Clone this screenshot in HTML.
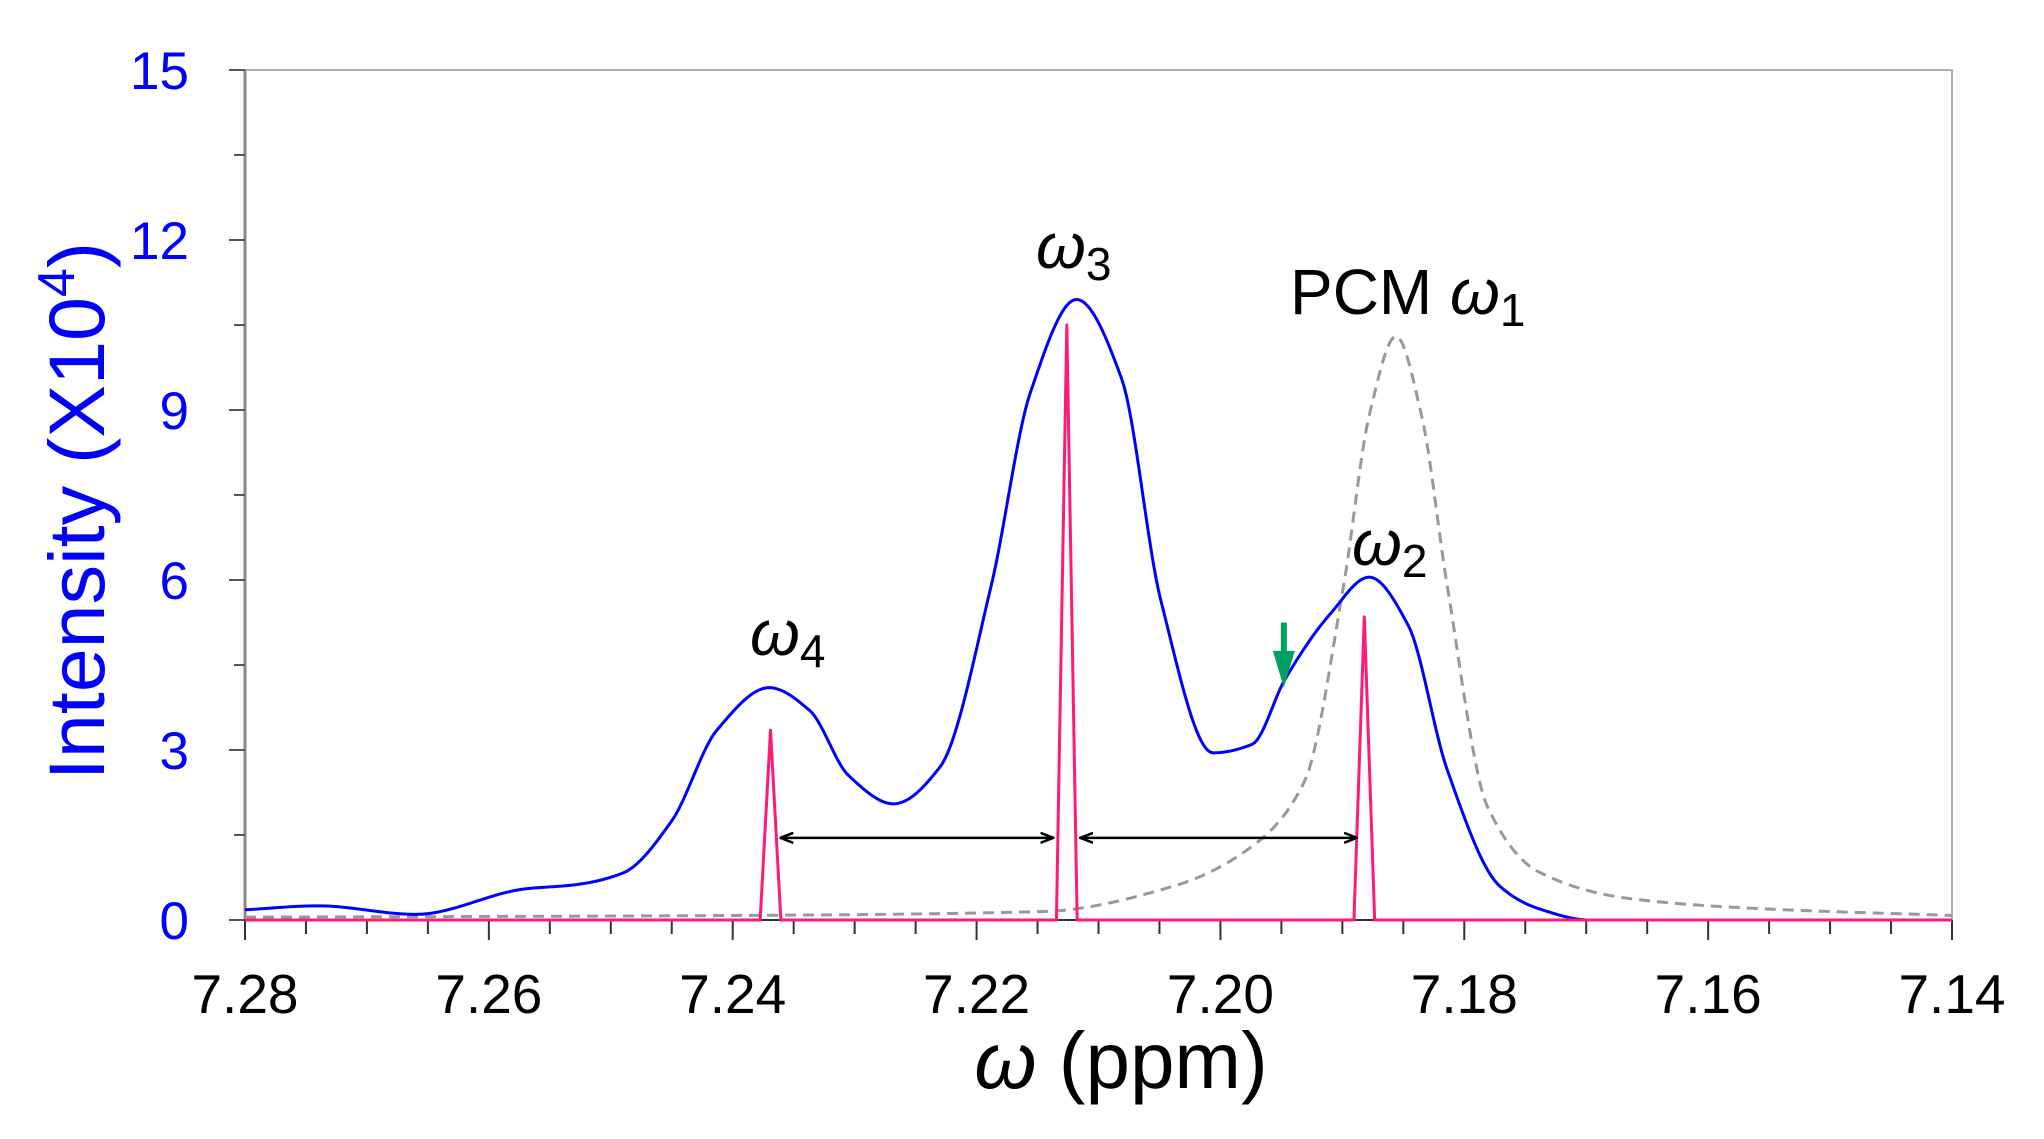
<!DOCTYPE html>
<html><head><meta charset="utf-8"><style>
html,body{margin:0;padding:0;background:#fff;}
svg{display:block;font-family:"Liberation Sans",Arial,sans-serif;}
</style></head><body>
<svg id="chart" width="2044" height="1139" viewBox="0 0 2044 1139" xmlns="http://www.w3.org/2000/svg">
<g id="axes"></g>
<g id="series"></g>
<g id="ann"></g>
</svg>
<script>
const xTickLabels = ["7.28","7.26","7.24","7.22","7.20","7.18","7.16","7.14"];
const xTickValues = [7.28,7.26,7.24,7.22,7.20,7.18,7.16,7.14];
const yTickValues = [0,3,6,9,12,15];
const blueX = [7.28,7.274,7.266,7.257,7.253,7.249,7.245,7.2413,7.237,7.2337,7.2305,7.2268,7.223,7.2188,7.2156,7.2118,7.2081,7.2049,7.2006,7.1974,7.1947,7.191,7.1878,7.1846,7.1814,7.1771,7.1739,7.1697,7.14];
const blueY = [0.18,0.25,0.1,0.55,0.62,0.83,1.75,3.35,4.1,3.7,2.55,2.05,2.7,5.9,9.3,10.95,9.55,5.65,2.95,3.1,4.25,5.4,6.05,5.2,2.65,0.6,0.2,0,0];
const pcmX = [7.28,7.24,7.2145,7.2038,7.1974,7.1931,7.1899,7.1878,7.1856,7.1835,7.1814,7.1781,7.1739,7.1665,7.1557,7.14];
const pcmY = [0.05,0.08,0.15,0.6,1.3,2.45,5.9,8.9,10.3,8.9,5.9,2.0,0.85,0.38,0.2,0.08];
const stickX = [7.2369,7.2126,7.1882];
const stickY = [3.35,10.5,5.35];
const stickHalfWidth = 0.00085;

const X0=245,X1=1952,Y0=920,Y1=70;
const xs=v=>X0+(7.28-v)/(7.28-7.14)*(X1-X0);
const ys=v=>Y0-v/15*(Y0-Y1);
const NS="http://www.w3.org/2000/svg";
function mk(tag,parent,attrs){const e=document.createElementNS(NS,tag);for(const k in attrs)e.setAttribute(k,attrs[k]);parent.appendChild(e);return e;}
const axes=document.getElementById('axes'),series=document.getElementById('series'),ann=document.getElementById('ann');

let e;
e=mk('path',axes,{d:`M${X0},${Y1}H${X1}V${Y0}`,stroke:'#b0b0b0','stroke-width':2,fill:'none'});


e=mk('line',axes,{x1:X0,y1:Y1,x2:X0,y2:Y0,stroke:'#888','stroke-width':3});


e=mk('line',axes,{x1:X0,y1:Y0,x2:X1,y2:Y0,stroke:'#333','stroke-width':2});


for(let v=0;v<=15.001;v+=1.5){const maj=Math.abs(v/3-Math.round(v/3))<1e-6;
 e=mk('line',axes,{x1:X0-(maj?16:11),x2:X0,y1:ys(v),y2:ys(v),stroke:'#555','stroke-width':2});
 
 }
yTickValues.forEach(v=>{e=mk('text',axes,{x:189,y:ys(v)+19,'text-anchor':'end','font-size':53,fill:'#0000ff'});e.textContent=v;
 
 });
for(let i=0;i<=28;i++){const v=7.28-i*0.005;const maj=i%4==0;
 e=mk('line',axes,{x1:xs(v),x2:xs(v),y1:Y0,y2:Y0+(maj?20:14),stroke:'#333','stroke-width':2});
 
 }
xTickValues.forEach((v,i)=>{e=mk('text',axes,{x:xs(v),y:1013,'text-anchor':'middle','font-size':55,fill:'#000'});e.textContent=xTickLabels[i];
 
 });
e=mk('text',axes,{x:1121,y:1088,'text-anchor':'middle','font-size':80,fill:'#000'});
e.innerHTML='<tspan font-style="italic">ω</tspan> (ppm)';


e=mk('text',axes,{x:0,y:0,'text-anchor':'middle','font-size':79,fill:'#0000ff',transform:'translate(104,511) rotate(-90)'});
e.innerHTML='Intensity (X10<tspan dy="-30" font-size="52">4</tspan><tspan dy="30">)</tspan>';



// monotone cubic interpolation (x decreasing arrays)
function smooth(px,py){
 const n=px.length,h=[],d=[],m=[];
 for(let i=0;i<n-1;i++){h[i]=px[i+1]-px[i];d[i]=(py[i+1]-py[i])/h[i];}
 m[0]=d[0];m[n-1]=d[n-2];
 for(let i=1;i<n-1;i++){if(d[i-1]*d[i]<=0)m[i]=0;else{const w1=2*h[i]+h[i-1],w2=h[i]+2*h[i-1];m[i]=(w1+w2)/(w1/d[i-1]+w2/d[i]);}}
 let s='';
 for(let i=0;i<n-1;i++){const N=Math.max(4,Math.ceil(Math.abs(h[i])/0.0002));
  for(let k=(i==0?0:1);k<=N;k++){const t=k/N,t2=t*t,t3=t2*t;
   const y=(2*t3-3*t2+1)*py[i]+(t3-2*t2+t)*h[i]*m[i]+(-2*t3+3*t2)*py[i+1]+(t3-t2)*h[i]*m[i+1];
   const x=px[i]+t*h[i];
   s+=(s?'L':'M')+xs(x).toFixed(2)+','+ys(Math.max(0,y)).toFixed(2);}}
 return s;}

e=mk('path',series,{d:smooth(pcmX,pcmY),stroke:'#999','stroke-width':3,fill:'none','stroke-dasharray':'11,7'});


e=mk('path',series,{d:smooth(blueX,blueY),stroke:'#0000ff','stroke-width':3,fill:'none'});


let sd=`M${X0},${Y0}`;
stickX.forEach((x,i)=>{sd+=`L${xs(x+stickHalfWidth)},${Y0}L${xs(x)},${ys(stickY[i])}L${xs(x-stickHalfWidth)},${Y0}`;});
sd+=`L${X1},${Y0}`;
e=mk('path',series,{d:sd,stroke:'#ff1a75','stroke-width':3,fill:'none','stroke-linejoin':'round'});



const defs=mk('defs',ann,{});
const m=mk('marker',defs,{id:'ah',markerWidth:14,markerHeight:12,refX:13,refY:6,orient:'auto-start-reverse',markerUnits:'userSpaceOnUse'});
mk('path',m,{d:'M0,1L13,6L0,11',fill:'none',stroke:'#000','stroke-width':2.5});
[[7.2361,7.2137],[7.2115,7.1888]].forEach(a=>{e=mk('line',ann,{x1:xs(a[0]),x2:xs(a[1]),y1:ys(1.45),y2:ys(1.45),stroke:'#000','stroke-width':2.5,'marker-start':'url(#ah)','marker-end':'url(#ah)'});
 
 });
e=mk('path',ann,{d:`M${xs(7.1948)},${ys(5.25)}V${ys(4.7)}`,stroke:'#00a060','stroke-width':6});


e=mk('path',ann,{d:`M${xs(7.1948)-11},${ys(4.75)}L${xs(7.1948)+11},${ys(4.75)}L${xs(7.1948)},${ys(4.1)}Z`,fill:'#00a060'});


function lab(x,y,sub,pre,name){e=mk('text',ann,{x:x,y:y,'font-size':64,fill:'#000'});
 e.innerHTML=(pre||'')+'<tspan font-style="italic">ω</tspan><tspan font-size="46" dy="12">'+sub+'</tspan>';
 
 }
lab(750,655,'4','','omega4-label');
lab(1036,268,'3','','omega3-label');
lab(1290,314,'1','PCM ','pcm-omega1-label');
lab(1352,565,'2','','omega2-label');
</script>
</body></html>
